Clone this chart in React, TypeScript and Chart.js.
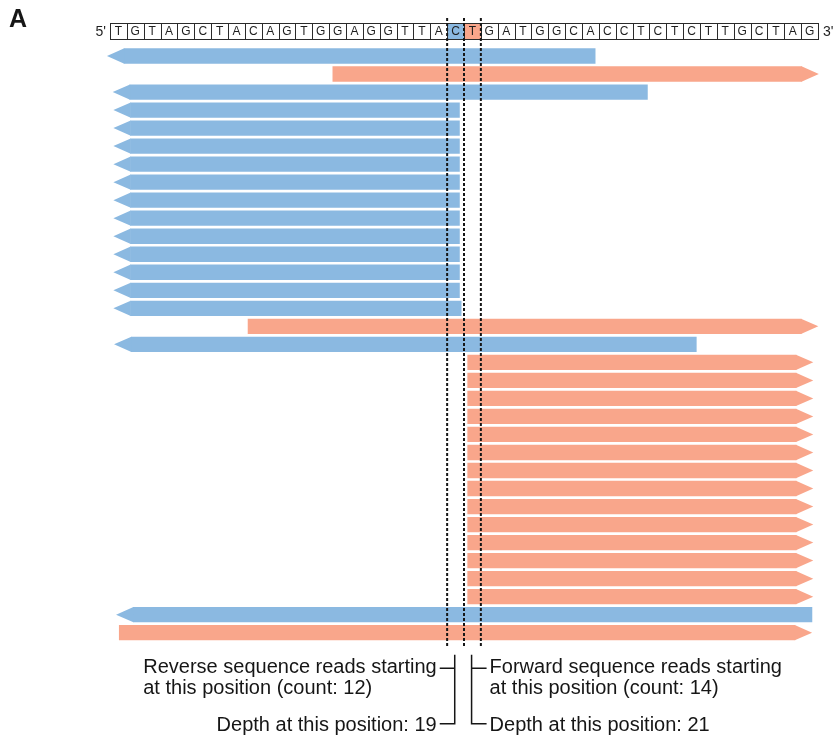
import React, { useEffect, useRef } from 'react';
import { Chart, registerables } from 'chart.js';

Chart.register(...registerables);

// Reference sequence, 5' -> 3'
const sequence = [
  'T', 'G', 'T', 'A', 'G', 'C', 'T', 'A', 'C', 'A',
  'G', 'T', 'G', 'G', 'A', 'G', 'G', 'T', 'T', 'A',
  'C', 'T', 'G', 'A', 'T', 'G', 'G', 'C', 'A', 'C',
  'C', 'T', 'C', 'T', 'C', 'T', 'T', 'G', 'C', 'T',
  'A', 'G',
];

// Positions of interest (0-based index into the sequence)
const reverseSite = 20; // C
const forwardSite = 21; // T

// One row per read, top to bottom
const readIds = [
  'r01', 'r02', 'r03', 'r04', 'r05', 'r06', 'r07', 'r08', 'r09', 'r10',
  'r11', 'r12', 'r13', 'r14', 'r15', 'r16', 'r17', 'r18', 'r19', 'r20',
  'r21', 'r22', 'r23', 'r24', 'r25', 'r26', 'r27', 'r28', 'r29', 'r30',
  'r31', 'r32', 'r33',
];

// '-' = reverse read (arrow points left), '+' = forward read (arrow points right)
const readStrand = [
  '-', '+', '-', '-', '-', '-', '-', '-', '-', '-',
  '-', '-', '-', '-', '-', '+', '-', '+', '+', '+',
  '+', '+', '+', '+', '+', '+', '+', '+', '+', '+',
  '+', '-', '+',
];

// Left end of each read, in bases (includes the arrow head of reverse reads)
const readStart = [
  -0.18, 13.2, 0.16, 0.2, 0.2, 0.2, 0.2, 0.2, 0.2, 0.2,
  0.2, 0.2, 0.2, 0.2, 0.2, 8.17, 0.24, 21.2, 21.2, 21.2,
  21.2, 21.2, 21.2, 21.2, 21.2, 21.2, 21.2, 21.2, 21.2, 21.2,
  21.2, 0.36, 0.53,
];

// Right end of each read, in bases (includes the arrow head of forward reads)
const readEnd = [
  28.8, 42.05, 31.9, 20.75, 20.75, 20.75, 20.75, 20.75, 20.75, 20.75,
  20.75, 20.75, 20.75, 20.75, 20.85, 42.02, 34.8, 41.72, 41.72, 41.72,
  41.72, 41.72, 41.72, 41.72, 41.72, 41.72, 41.72, 41.72, 41.72, 41.72,
  41.72, 41.66, 41.65,
];

const headLength = 1; // arrow head length, in bases

const BLUE = '#8BB9E1';
const PINK = '#F9A68B';
const INK = '#161616';
const FONT = '"Liberation Sans", Arial, Helvetica, sans-serif';

// Counts derived from the reads
const reverseStarts = readIds.filter(
  (_, i) => readStrand[i] === '-' && readEnd[i] >= reverseSite && readEnd[i] < reverseSite + 1
).length;
const forwardStarts = readIds.filter(
  (_, i) => readStrand[i] === '+' && readStart[i] >= forwardSite && readStart[i] < forwardSite + 1
).length;
const depthAt = (site: number) =>
  readIds.filter((_, i) => readStart[i] < site + 0.5 && readEnd[i] > site + 0.5).length;

const leftLines = [
  'Reverse sequence reads starting',
  `at this position (count: ${reverseStarts})`,
  `Depth at this position: ${depthAt(reverseSite)}`,
];
const rightLines = [
  'Forward sequence reads starting',
  `at this position (count: ${forwardStarts})`,
  `Depth at this position: ${depthAt(forwardSite)}`,
];

const reverseData = readIds.map((_, i) =>
  readStrand[i] === '-' ? [readStart[i] + headLength, readEnd[i]] : null
);
const forwardData = readIds.map((_, i) =>
  readStrand[i] === '+' ? [readStart[i], readEnd[i] - headLength] : null
);

// Arrow heads on the read bars
const readArrows = {
  id: 'readArrows',
  afterDatasetsDraw(chart: any) {
    const { ctx } = chart;
    const xs = chart.scales.x;
    chart.data.datasets.forEach((ds: any, di: number) => {
      const meta = chart.getDatasetMeta(di);
      meta.data.forEach((el: any, i: number) => {
        if (!ds.data[i]) return;
        const { x, base, y, height } = el.getProps(['x', 'base', 'y', 'height'], true);
        const left = Math.min(x, base);
        const right = Math.max(x, base);
        const half = height / 2;
        ctx.save();
        ctx.fillStyle = ds.backgroundColor;
        ctx.beginPath();
        if (readStrand[i] === '-') {
          const tip = xs.getPixelForValue(readStart[i]);
          ctx.moveTo(left + 0.5, y - half);
          ctx.lineTo(tip, y);
          ctx.lineTo(left + 0.5, y + half);
        } else {
          const tip = xs.getPixelForValue(readEnd[i]);
          ctx.moveTo(right - 0.5, y - half);
          ctx.lineTo(tip, y);
          ctx.lineTo(right - 0.5, y + half);
        }
        ctx.closePath();
        ctx.fill();
        ctx.restore();
      });
    });
  },
};

// Sequence strip, site markers and annotations
const overlay = {
  id: 'overlay',
  afterDraw(chart: any) {
    const { ctx, chartArea } = chart;
    const xs = chart.scales.x;
    const px = (v: number) => xs.getPixelForValue(v);

    // sequence boxes
    const top = chartArea.top - 24;
    const h = 16;
    ctx.save();
    sequence.forEach((b, k) => {
      const x0 = px(k);
      const x1 = px(k + 1);
      if (k === reverseSite) {
        ctx.fillStyle = BLUE;
        ctx.fillRect(x0, top, x1 - x0, h);
      } else if (k === forwardSite) {
        ctx.fillStyle = PINK;
        ctx.fillRect(x0, top, x1 - x0, h);
      }
    });
    ctx.strokeStyle = '#2a2a2a';
    ctx.lineWidth = 1;
    ctx.strokeRect(Math.round(px(0)) + 0.5, top + 0.5, Math.round(px(sequence.length) - px(0)), h);
    for (let k = 1; k < sequence.length; k++) {
      const x = Math.round(px(k)) + 0.5;
      ctx.beginPath();
      ctx.moveTo(x, top);
      ctx.lineTo(x, top + h);
      ctx.stroke();
    }
    ctx.fillStyle = '#1e1e1e';
    ctx.font = `12px ${FONT}`;
    ctx.textAlign = 'center';
    ctx.textBaseline = 'middle';
    sequence.forEach((b, k) => {
      ctx.fillText(b, (px(k) + px(k + 1)) / 2, top + h / 2 + 1);
    });
    ctx.font = `14px ${FONT}`;
    ctx.textAlign = 'right';
    ctx.fillText("5'", px(0) - 4, top + h / 2 + 1);
    ctx.textAlign = 'left';
    ctx.fillText("3'", px(sequence.length) + 5, top + h / 2 + 1);

    // dotted site boundaries
    ctx.strokeStyle = INK;
    ctx.lineWidth = 2;
    ctx.setLineDash([3, 2]);
    [reverseSite, forwardSite, forwardSite + 1].forEach((v) => {
      const x = px(v);
      ctx.beginPath();
      ctx.moveTo(x, top - 5);
      ctx.lineTo(x, chartArea.bottom + 6);
      ctx.stroke();
    });
    ctx.setLineDash([]);

    // brackets
    const bTop = chartArea.bottom + 13;
    const bMid = chartArea.bottom + 26.5;
    const bBot = chartArea.bottom + 82;
    const lx = px(reverseSite + 0.45);
    const rx = px(forwardSite + 0.45);
    ctx.lineWidth = 1.5;
    ctx.strokeStyle = INK;
    ctx.beginPath();
    ctx.moveTo(lx, bTop);
    ctx.lineTo(lx, bBot);
    ctx.moveTo(lx - 15, bMid);
    ctx.lineTo(lx, bMid);
    ctx.moveTo(lx - 15, bBot);
    ctx.lineTo(lx + 0.75, bBot);
    ctx.moveTo(rx, bTop);
    ctx.lineTo(rx, bBot);
    ctx.moveTo(rx, bMid);
    ctx.lineTo(rx + 15, bMid);
    ctx.moveTo(rx - 0.75, bBot);
    ctx.lineTo(rx + 15, bBot);
    ctx.stroke();

    // annotation text
    ctx.fillStyle = INK;
    ctx.font = `20px ${FONT}`;
    ctx.textBaseline = 'alphabetic';
    const base1 = bMid + 5;
    const base2 = base1 + 21;
    const base3 = bBot + 7;
    const leftEdge = lx - 18;
    const w1 = ctx.measureText(leftLines[0]).width;
    ctx.textAlign = 'left';
    ctx.fillText(leftLines[0], leftEdge - w1, base1);
    ctx.fillText(leftLines[1], leftEdge - w1, base2);
    ctx.textAlign = 'right';
    ctx.fillText(leftLines[2], leftEdge, base3);
    const rightEdge = rx + 18;
    ctx.textAlign = 'left';
    ctx.fillText(rightLines[0], rightEdge, base1);
    ctx.fillText(rightLines[1], rightEdge, base2);
    ctx.fillText(rightLines[2], rightEdge, base3);

    // panel letter
    ctx.font = `bold 25px ${FONT}`;
    ctx.fillText('A', 9, 27);
    ctx.restore();
  },
};

export default function App() {
  const canvasRef = useRef<HTMLCanvasElement | null>(null);

  useEffect(() => {
    if (!canvasRef.current) return;
    const chart = new Chart(canvasRef.current, {
      type: 'bar',
      data: {
        labels: readIds,
        datasets: [
          {
            label: 'Reverse reads',
            data: reverseData as any,
            backgroundColor: BLUE,
            borderWidth: 0,
            grouped: false,
            clip: false as any,
            categoryPercentage: 0.85,
            barPercentage: 1,
          },
          {
            label: 'Forward reads',
            data: forwardData as any,
            backgroundColor: PINK,
            borderWidth: 0,
            grouped: false,
            clip: false as any,
            categoryPercentage: 0.85,
            barPercentage: 1,
          },
        ],
      },
      options: {
        indexAxis: 'y',
        responsive: false,
        animation: false,
        devicePixelRatio: 1,
        layout: { padding: { left: 110, right: 20, top: 47, bottom: 99.3 } },
        scales: {
          x: { type: 'linear', min: 0, max: sequence.length, display: false },
          y: { type: 'category', display: false, offset: true },
        },
        plugins: {
          legend: { display: false },
          tooltip: { enabled: false },
        },
      },
      plugins: [readArrows, overlay],
    });
    return () => chart.destroy();
  }, []);

  return (
    <div style={{ position: 'absolute', left: 0, top: 0, width: 838, height: 741, background: '#fff' }}>
      <canvas ref={canvasRef} width={838} height={741} />
    </div>
  );
}
